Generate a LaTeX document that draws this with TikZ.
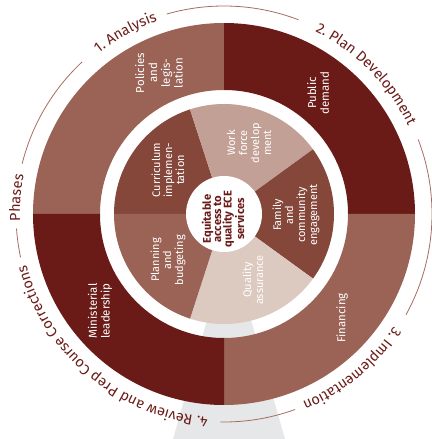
\documentclass[tikz,border=0pt]{standalone}
\usepackage{fontspec}
\setmainfont{Fira Sans}
\usetikzlibrary{decorations.text}

\definecolor{ringbrown}{HTML}{9A6356}
\definecolor{ringred}{HTML}{6A1B17}
\definecolor{piedark}{HTML}{86473B}
\definecolor{pielight}{HTML}{C2A095}
\definecolor{piepale}{HTML}{DCC9C0}
\definecolor{backgrey}{HTML}{E6E7E8}
\definecolor{arcline}{HTML}{A66C5F}

\newcommand{\phasefont}{\fontsize{14.5}{16}\selectfont}

\begin{document}
\begin{tikzpicture}[x=1pt,y=1pt,
  seglabel/.style={text=white, align=center, rotate=90, inner sep=0pt,
    font=\fontsize{11}{12}\selectfont},
  ringlabel/.style={seglabel, font=\fontsize{11.5}{12.8}\selectfont},
  hublabel/.style={text=ringred, align=center, rotate=90, inner sep=0pt,
    font=\fontsize{11.2}{10.4}\selectfont\bfseries},
  phasearc/.style={draw=arcline, line width=0.8pt},
  phasetext/.style={decorate, decoration={text along path, text align=center,
    text color=ringred, text={|\phasefont|#1}}}
]
\useasboundingbox (0,0) rectangle (431,439);

% grey band running down behind the wheel
\fill[backgrey] (213,140) -- (173,0) -- (285,0) -- (245,140) -- cycle;

\begin{scope}[shift={(224,225)}]
  \coordinate (hub) at (0,0);

  % outer ring: the four phases
  \fill[ringbrown] (90:191) arc[start angle=90, end angle=180, radius=191]
    -- (180:124) arc[start angle=180, end angle=90, radius=124] -- cycle;
  \fill[ringred] (0:191) arc[start angle=0, end angle=90, radius=191]
    -- (90:124) arc[start angle=90, end angle=0, radius=124] -- cycle;
  \fill[ringbrown] (-90:191) arc[start angle=-90, end angle=0, radius=191]
    -- (0:124) arc[start angle=0, end angle=-90, radius=124] -- cycle;
  \fill[ringred] (180:191) arc[start angle=180, end angle=270, radius=191]
    -- (270:124) arc[start angle=270, end angle=180, radius=124] -- cycle;

  % inner pie: five building blocks
  \fill[piedark]   (0,0) -- (108:110) arc[start angle=108, end angle=180, radius=110] -- cycle;
  \fill[pielight]  (0,0) -- (36:110)  arc[start angle=36,  end angle=108, radius=110] -- cycle;
  \fill[piedark]   (0,0) -- (-36:110) arc[start angle=-36, end angle=36,  radius=110] -- cycle;
  \fill[piepale]   (0,0) -- (-108:110) arc[start angle=-108, end angle=-36, radius=110] -- cycle;
  \fill[ringbrown] (0,0) -- (180:110) arc[start angle=180, end angle=252, radius=110] -- cycle;

  % hub
  \fill[white] (0,0) circle[radius=38];

  % thin guide circle broken around the phase names
  \draw[phasearc] (166:208) arc[start angle=166, end angle=133, radius=208];
  \draw[phasearc] (106:208) arc[start angle=106, end angle=69,  radius=208];
  \draw[phasearc] (21:208)  arc[start angle=21,  end angle=-29, radius=208];
  \draw[phasearc] (-70:208) arc[start angle=-70, end angle=-91, radius=208];
  \draw[phasearc] (192:208) arc[start angle=192, end angle=184, radius=208];

  % phase names, set clockwise along the circle
  \path[phasetext={1. Analysis}] (160:204) arc[start angle=160, end angle=77, radius=204];
  \path[phasetext={2. Plan Development}] (90:204) arc[start angle=90, end angle=-1, radius=204];
  \path[phasetext={3. Implementation}] (-5:204) arc[start angle=-5, end angle=-96, radius=204];
  \path[phasetext={4. Review and Prep Course Corrections}] (285:204) arc[start angle=285, end angle=175, radius=204];
  \path[phasetext={Phases}] (215:204) arc[start angle=215, end angle=136, radius=204];
\end{scope}

% outer ring labels
\node[ringlabel] (policies) at (159,366) {Policies\\and\\legis-\\lation};
\node[ringlabel] (public) at (318,346) {Public\\demand};
\node[ringlabel] (financing) at (342,121) {Financing};
\node[ringlabel] (ministerial) at (100,128) {Ministerial\\leadership};

% inner pie labels
\node[seglabel] (curriculum) at (168,269) {Curriculum\\implemen-\\tation};
\node[seglabel] (workforce) at (249,296) {Work\\force\\develop\\ment};
\node[seglabel] (family) at (296,224) {Family\\and\\community\\engagement};
\node[seglabel] (quality) at (253,159) {Quality\\assurance};
\node[seglabel] (planning) at (168,179) {Planning\\and\\budgeting};

% hub label
\node[hublabel] (access) at (223,220) {Equitable\\access to\\quality ECE\\services};
\end{tikzpicture}
\end{document}
